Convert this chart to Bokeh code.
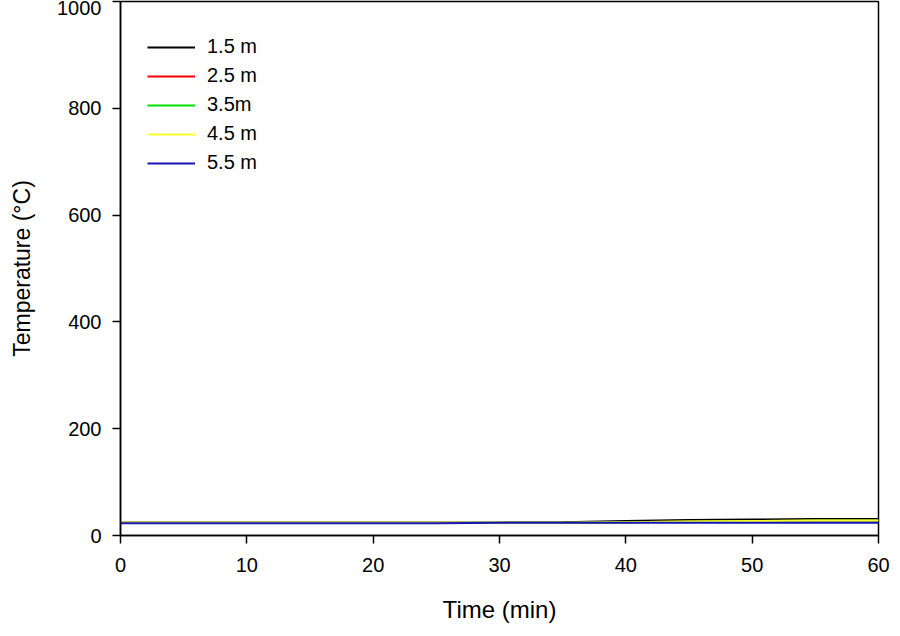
from bokeh.plotting import figure
from bokeh.models import Range1d, Legend, LegendItem, FixedTicker
from bokeh.embed import file_html
from bokeh.resources import INLINE

time_min = [0, 5, 10, 15, 20, 25, 30, 35, 40, 45, 50, 55, 60]
t_1_5m = [24, 24, 24, 24, 24, 24, 24, 25, 27, 29, 30, 31, 31]
t_2_5m = [24, 24, 24, 24, 24, 24, 24, 24, 25, 26, 27, 28, 28]
t_3_5m = [24, 24, 24, 24, 24, 24, 24, 24, 25, 26, 27, 28, 28]
t_4_5m = [24, 24, 24, 24, 24, 24, 24, 24, 25, 26, 27, 28, 28]
t_5_5m = [23, 23, 23, 23, 23, 23, 24, 24, 24, 24, 24, 24, 24]

labels = ["1.5 m", "2.5 m", "3.5m", "4.5 m", "5.5 m"]
series = [t_1_5m, t_2_5m, t_3_5m, t_4_5m, t_5_5m]
colors = ["#000000", "#ff0000", "#00e000", "#ffff30", "#1414b4"]
x_ticks = [0, 10, 20, 30, 40, 50, 60]
y_ticks = [0, 200, 400, 600, 800, 1000]

FONT = "Liberation Sans"

p = figure(width=900, height=636, output_backend="svg", toolbar_location=None,
           x_range=Range1d(0, 60), y_range=Range1d(0, 1000),
           min_border_left=120, min_border_right=22, min_border_top=1, min_border_bottom=101)

renderers = []
for ys, c in zip(series, colors):
    r = p.line(time_min, ys, line_color=c, line_width=2)
    renderers.append(r)

items = [LegendItem(label=l, renderers=[r]) for l, r in zip(labels, renderers)]
legend = Legend(items=items, location=(27, 361), padding=0, margin=0,
                border_line_color=None, background_fill_alpha=0,
                glyph_width=48, glyph_height=20, label_height=20, spacing=6,
                label_standoff=12, label_text_font=FONT, label_text_font_size="20px",
                label_text_color="#000000")
p.add_layout(legend)

p.xgrid.visible = False
p.ygrid.visible = False
p.outline_line_color = "#000000"
p.outline_line_width = 1.5
p.background_fill_color = "white"

p.xaxis.ticker = FixedTicker(ticks=x_ticks)
p.yaxis.ticker = FixedTicker(ticks=y_ticks)
for ax in (p.xaxis[0], p.yaxis[0]):
    ax.axis_line_color = "#000000"
    ax.axis_line_width = 1.5
    ax.major_tick_line_color = "#000000"
    ax.major_tick_line_width = 1.5
    ax.major_tick_out = 8
    ax.major_tick_in = 0
    ax.minor_tick_line_color = None
    ax.major_label_text_font = FONT
    ax.major_label_text_font_size = "20px"
    ax.major_label_text_color = "#000000"
    ax.axis_label_text_font = FONT
    ax.axis_label_text_font_style = "normal"
    ax.axis_label_text_color = "#000000"

p.xaxis.axis_label = "Time (min)"
p.yaxis.axis_label = "Temperature (°C)"
p.xaxis.axis_label_text_font_size = "24px"
p.yaxis.axis_label_text_font_size = "23px"
p.xaxis.major_label_standoff = 14
p.yaxis.major_label_standoff = 11
p.xaxis.axis_label_standoff = 21
p.yaxis.axis_label_standoff = 19

open("out.html", "w").write(file_html(p, INLINE))
